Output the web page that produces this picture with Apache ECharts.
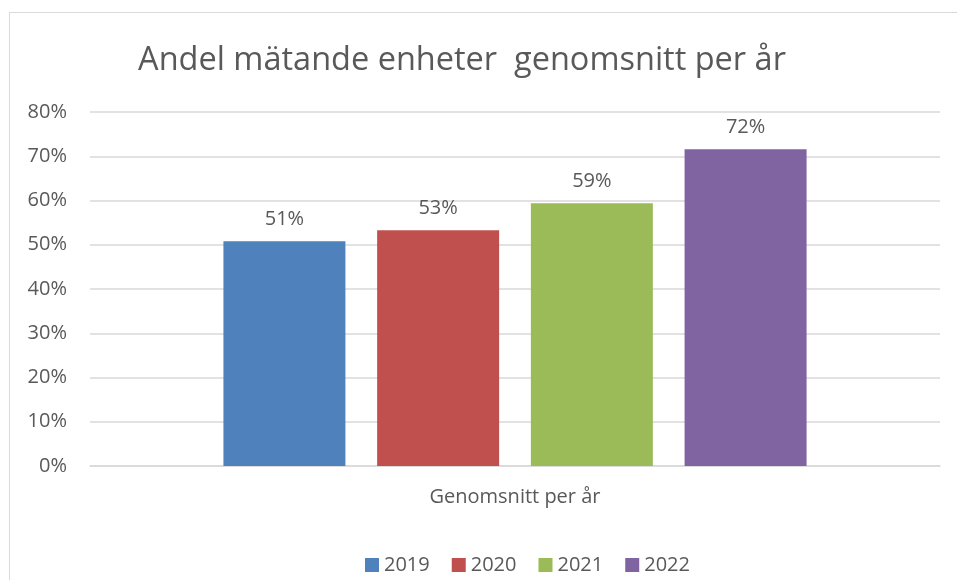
<!DOCTYPE html>
<html>
<head>
<meta charset="utf-8">
<script src="https://cdn.jsdelivr.net/npm/echarts@6/dist/echarts.min.js"></script>
<style>
  html, body { margin: 0; padding: 0; background: #fff; }
  #frame { position: absolute; left: 9px; top: 12px; width: 960px; height: 580px; border: 1px solid #d9d9d9; box-sizing: border-box; }
  #chart { position: absolute; left: 0; top: 0; width: 957px; height: 580px; }
</style>
</head>
<body>
<div id="frame"></div>
<div id="chart"></div>
<script>
// data
const categories = ['Genomsnitt per år']
const years = ['2019', '2020', '2021', '2022']
const values = [0.508, 0.533, 0.594, 0.716]
const colors = ['#4F81BD', '#C0504D', '#9BBB59', '#8064A2']

const FONT = '"Open Sans", "Liberation Sans", sans-serif'
const TXT = '#595959'

const chart = echarts.init(document.getElementById('chart'), null, { renderer: 'canvas' })

const series = years.map((y, i) => ({
  name: y,
  type: 'bar',
  data: [values[i]],
  barWidth: 122,
  barGap: '26%',
  itemStyle: { color: colors[i] },
  label: {
    show: true,
    position: 'top',
    distance: 12,
    color: TXT,
    fontFamily: FONT,
    fontSize: 20,
    formatter: p => Math.round(p.value * 100) + '%'
  }
}))

chart.setOption({
  animation: false,
  title: {
    text: 'Andel mätande enheter  genomsnitt per år',
    left: 457,
    top: 39,
    textAlign: 'center',
    textStyle: { color: TXT, fontFamily: FONT, fontSize: 32.5, fontWeight: 'normal' }
  },
  legend: {
    data: years,
    bottom: 0,
    left: 360,
    itemWidth: 14,
    itemHeight: 14,
    itemGap: 22,
    icon: 'rect',
    textStyle: { color: TXT, fontFamily: FONT, fontSize: 20 }
  },
  grid: { left: 90, right: 17, top: 112, bottom: 114, containLabel: false },
  xAxis: {
    type: 'category',
    data: categories,
    axisLine: { lineStyle: { color: '#d9d9d9', width: 1.5 } },
    axisTick: { show: false },
    axisLabel: { color: TXT, fontFamily: FONT, fontSize: 20, margin: 21 }
  },
  yAxis: {
    type: 'value',
    min: 0,
    max: 0.8,
    interval: 0.1,
    axisLine: { show: false },
    axisTick: { show: false },
    splitLine: { lineStyle: { color: '#d9d9d9', width: 1.5 } },
    axisLabel: {
      color: TXT, fontFamily: FONT, fontSize: 20, margin: 23,
      formatter: v => Math.round(v * 100) + '%'
    }
  },
  series
})
</script>
</body>
</html>
